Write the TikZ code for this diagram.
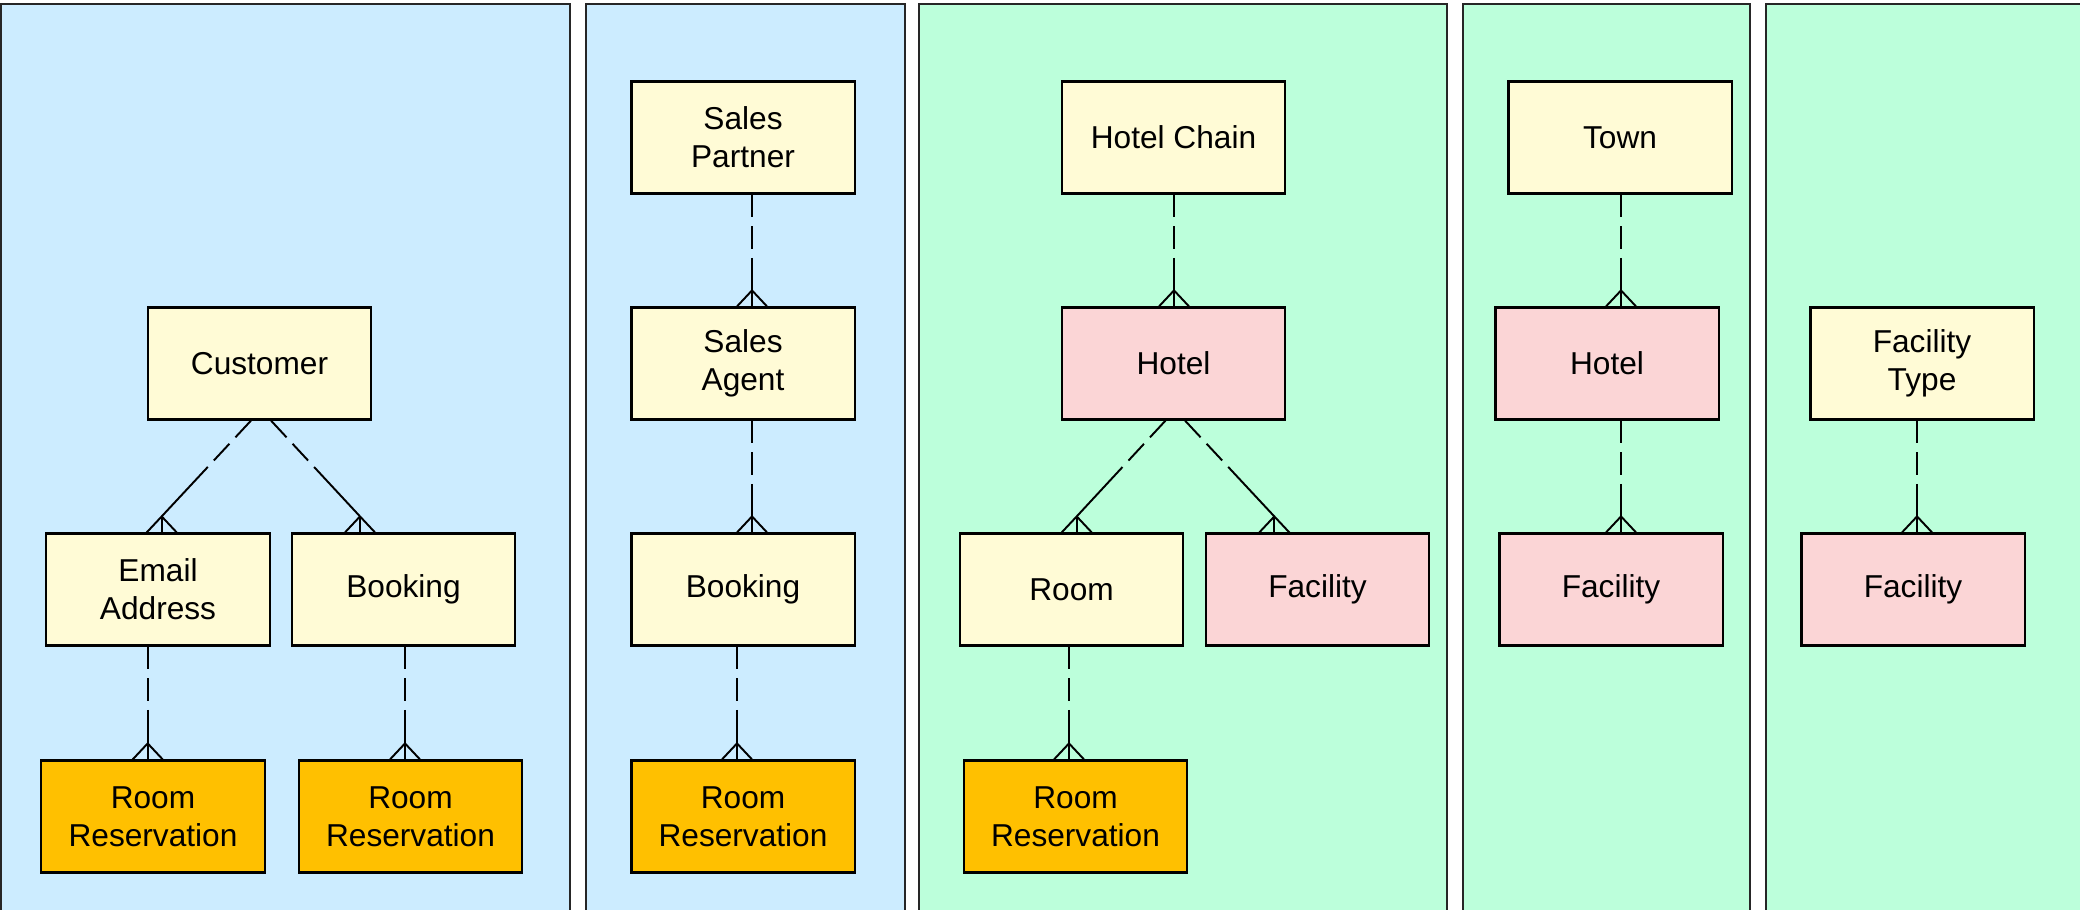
\documentclass[tikz,border=0pt]{standalone}
\usepackage{fontspec}
\setmainfont{Liberation Sans}
\usetikzlibrary{calc}

\definecolor{panelblue}{RGB}{204,236,255}
\definecolor{panelgreen}{RGB}{188,255,219}
\definecolor{boxyellow}{RGB}{255,251,214}
\definecolor{boxpink}{RGB}{251,213,214}
\definecolor{boxorange}{RGB}{255,192,0}

% half dashed line, then solid, then crow's foot on the child
\newcommand{\erlink}[2]{%
    \draw[optline] (#1) -- ($(#1)!15.5pt!(#2)$);
    \draw[link] ($(#1)!18pt!(#2)$) -- (#2);
    \foreach \dx in {-15,0,15} {
        \draw[link] (#2) -- ++(\dx,16);
    }
}

\begin{document}
\begin{tikzpicture}[
    x=0.01cm,y=-0.01cm,
    panel/.style={draw=black!85,line width=0.6pt},
    box/.style={rectangle,draw,line width=0.6pt,minimum width=2.23cm,minimum height=1.12cm,
        inner sep=0pt,align=center,font=\fontsize{9pt}{10.8pt}\selectfont,fill=boxyellow},
    pinkbox/.style={box,fill=boxpink},
    resbox/.style={box,fill=boxorange},
    link/.style={line width=0.55pt},
    optline/.style={link,dash pattern=on 6.5pt off 2.5pt}
]

\def \ROWA {137.5}; % row centres
\def \ROWB {363.5};
\def \ROWC {589.5};
\def \ROWD {816.5};

\clip (0,0) rectangle (2080,909);

% Panels
\foreach \xa/\xb/\col in {1/570/panelblue, 586/905/panelblue, 919/1447/panelgreen,
                          1463/1750/panelgreen, 1766/2090/panelgreen} {
    \draw[panel,fill=\col] (\xa,4) rectangle (\xb,920);
}

% Customer panel
\node[box] (cust) at (259.5,\ROWB) {Customer};
\node[box] (email) at (158,\ROWC) {Email\\Address};
\node[box] (book1) at (403.5,\ROWC) {Booking};
\node[resbox] (rr1) at (153,\ROWD) {Room\\Reservation};
\node[resbox] (rr2) at (410.5,\ROWD) {Room\\Reservation};

% Sales panel
\node[box] (sp) at (743,\ROWA) {Sales\\Partner};
\node[box] (sa) at (743,\ROWB) {Sales\\Agent};
\node[box] (book2) at (743,\ROWC) {Booking};
\node[resbox] (rr3) at (743,\ROWD) {Room\\Reservation};

% Hotel chain panel
\node[box] (hc) at (1173.5,\ROWA) {Hotel Chain};
\node[pinkbox] (hotel1) at (1173.5,\ROWB) {Hotel};
\node[box] (room) at (1071.5,\ROWC) {Room};
\node[pinkbox] (fac1) at (1317.5,\ROWC) {Facility};
\node[resbox] (rr4) at (1075.5,\ROWD) {Room\\Reservation};

% Town panel
\node[box] (town) at (1620,\ROWA) {Town};
\node[pinkbox] (hotel2) at (1607,\ROWB) {Hotel};
\node[pinkbox] (fac2) at (1611,\ROWC) {Facility};

% Facility type panel
\node[box] (ftype) at (1922,\ROWB) {Facility\\Type};
\node[pinkbox] (fac3) at (1913,\ROWC) {Facility};

% Relationships: parent / offset at parent / child / offset at child
\foreach \p/\ps/\c/\cs in {cust/-8.5/email/3.7, cust/11.5/book1/-43.5,
                           email/-10.3/rr1/-5.3, book1/1.5/rr2/-5.5,
                           sp/9/sa/9, sa/9/book2/9, book2/-6/rr3/-6,
                           hc/0.5/hotel1/0.5, hotel1/-8/room/5.2, hotel1/11.5/fac1/-43.2,
                           room/-2.5/rr4/-6.5,
                           town/1/hotel2/14, hotel2/14/fac2/10,
                           ftype/-5/fac3/4} {
    \coordinate (\p-\c-s) at ($(\p.south)+(\ps,0)$);
    \coordinate (\p-\c-f) at ($(\c.north)+(\cs,-16)$);
    \erlink{\p-\c-s}{\p-\c-f}
}

\end{tikzpicture}
\end{document}
